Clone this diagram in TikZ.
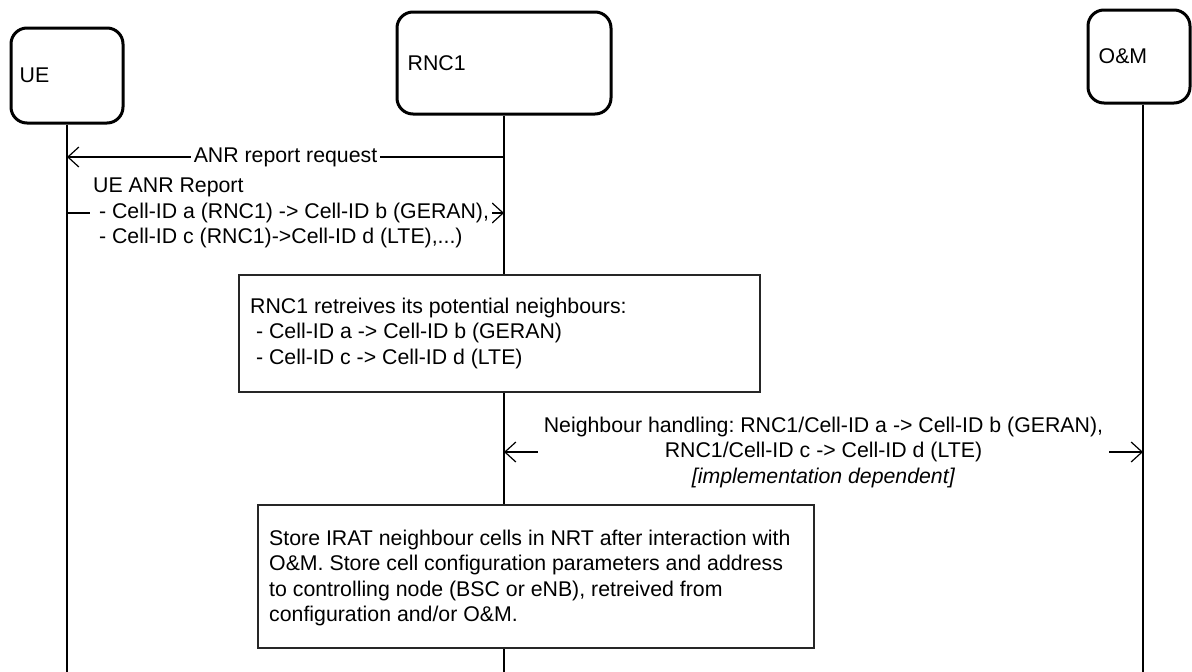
\documentclass[tikz,border=0pt]{standalone}
\usepackage{fontspec}
\setmainfont{Liberation Sans}
\usetikzlibrary{arrows.meta}
\begin{document}
\frenchspacing
\begin{tikzpicture}[x=1pt,y=-1pt,
  every node/.style={font=\fontsize{21.3}{25.5}\selectfont\frenchspacing, inner sep=0pt},
  entity/.style={draw, line width=3pt, rounded corners=16pt, fill=white},
  life/.style={line width=1.2pt},
  msg/.style={line width=1.2pt, -{Straight Barb[length=11pt,width=20pt,line width=1.2pt]}},
  dmsg/.style={line width=1.2pt, {Straight Barb[length=11pt,width=20pt,line width=1.2pt]}-{Straight Barb[length=11pt,width=20pt,line width=1.2pt]}},
  plainbox/.style={draw=black!85, line width=1.2pt, fill=white},
  lbl/.style={fill=white, inner sep=3pt, align=left}]
\useasboundingbox (0,0) rectangle (1192,672);
% lifeline ends
\coordinate (ueend) at (67,672);
\coordinate (rncend) at (504,672);
\coordinate (omend) at (1143,672);
% entities
\node[entity, minimum width=112pt, minimum height=95pt] (ue) at (67,75.5) {};
\node[entity, minimum width=214pt, minimum height=102pt] (rnc) at (504,63) {};
\node[entity, minimum width=102pt, minimum height=93pt] (om) at (1139,56.5) {};
\draw[life] (ue.south) -- (ueend);
\draw[life] (rnc.south) -- (rncend);
\draw[life] (om.south -| omend) -- (omend);
\node[anchor=west] (uelbl) at ([xshift=10pt]ue.west) {UE};
\node[anchor=west] (rnclbl) at ([xshift=12pt]rnc.west) {RNC1};
\node[anchor=west] (omlbl) at ([xshift=12pt]om.west) {O\&M};
% message 1
\coordinate (m1a) at (504,157);
\coordinate (m1b) at (67,157);
\draw[msg] (m1a) -- (m1b) node[midway, lbl] (m1lbl) {ANR report request};
% message 2
\coordinate (m2a) at (67,213);
\coordinate (m2b) at (504,213);
\draw[msg] (m2a) -- (m2b);
\node[lbl, anchor=west] (m2lbl) at (90,213) {UE ANR Report\\~- Cell-ID a (RNC1) -> Cell-ID b (GERAN),\\~- Cell-ID c (RNC1)->Cell-ID d (LTE),...)};
% retrieve box
\draw[plainbox] (239,275) rectangle (760,392);
\node[anchor=west, align=left] (ret) at (250,333) {RNC1 retreives its potential neighbours:\\~- Cell-ID a -> Cell-ID b (GERAN)\\~- Cell-ID c -> Cell-ID d (LTE)};
% neighbour handling
\coordinate (m3a) at (504,452);
\coordinate (m3b) at (1143,452);
\draw[dmsg] (m3a) -- (m3b) node[midway, fill=white, inner sep=6pt, align=center] (m3lbl) {Neighbour handling: RNC1/Cell-ID a -> Cell-ID b (GERAN),\\RNC1/Cell-ID c -> Cell-ID d (LTE)\\\textit{[implementation dependent]}};
% store box
\draw[plainbox] (258,505) rectangle (814,648);
\node[anchor=west, align=left] (store) at (269,578) {Store IRAT neighbour cells in NRT after interaction with\\O\&M. Store cell configuration parameters and address\\to controlling node (BSC or eNB), retreived from\\configuration and/or O\&M.};
\end{tikzpicture}
\end{document}
